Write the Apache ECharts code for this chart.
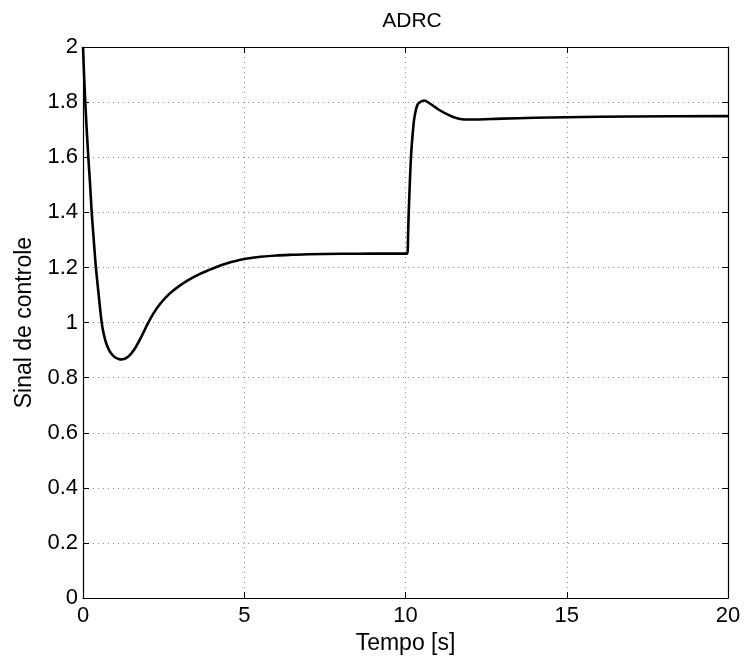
<!DOCTYPE html>
<html>
<head>
<meta charset="utf-8">
<script src="https://cdn.jsdelivr.net/npm/echarts@6/dist/echarts.min.js"></script>
<style>html,body{margin:0;padding:0;background:#fff}#c{width:744px;height:660px}</style>
</head>
<body>
<div id="c"></div>
<script>
var titleText = "ADRC";
var xName = "Tempo [s]";
var yName = "Sinal de controle";
var xTicks = [0, 5, 10, 15, 20];
var yTicks = [0, 0.2, 0.4, 0.6, 0.8, 1, 1.2, 1.4, 1.6, 1.8, 2];
var tValues = [0, 0.035, 0.07, 0.115, 0.165, 0.215, 0.27, 0.33, 0.40, 0.50, 0.58, 0.65, 0.72, 0.80, 0.90, 1.0, 1.1, 1.2,
  1.4, 1.6, 1.8, 2.0, 2.2, 2.4, 2.6, 2.8, 3.0, 3.2, 3.4, 3.6, 3.8, 4.0, 4.2, 4.4, 4.6, 4.8, 5.0, 5.5, 6.0, 6.5, 7.0, 8.0, 9.0, 10.05,
  10.08, 10.1, 10.17, 10.25, 10.3, 10.37, 10.45, 10.58, 10.75, 11.0, 11.22, 11.5, 11.74, 12.0, 13, 14, 15, 17, 20];
var uValues = [2.0, 1.895, 1.80, 1.70, 1.60, 1.51, 1.40, 1.305, 1.20, 1.085, 1.00, 0.955, 0.925, 0.902, 0.884, 0.873, 0.868, 0.866,
  0.876, 0.904, 0.946, 0.994, 1.036, 1.069, 1.095, 1.116, 1.134, 1.1496, 1.163, 1.175, 1.1855, 1.1955, 1.2045, 1.2125, 1.2195, 1.2255, 1.2305, 1.2385, 1.2435, 1.246, 1.248, 1.2495, 1.25, 1.25,
  1.32, 1.40, 1.60, 1.72, 1.76, 1.79, 1.80, 1.806, 1.795, 1.775, 1.76, 1.745, 1.738, 1.737, 1.74, 1.743, 1.745, 1.748, 1.749];

var data = tValues.map(function (t, i) { return [t, uValues[i]]; });
var font = "'Liberation Sans', Arial, Helvetica, sans-serif";
var gridLine = { show: true, lineStyle: { color: '#8c8c8c', type: [1, 4], width: 1 } };

var chart = echarts.init(document.getElementById('c'));
chart.setOption({
  animation: false,
  backgroundColor: '#fff',
  title: { text: titleText, left: 407, top: 6, textAlign: 'center',
    textStyle: { fontFamily: font, fontSize: 21, fontWeight: 'normal', color: '#000' } },
  grid: { left: 83, right: 16, top: 47, bottom: 57, containLabel: false },
  xAxis: [{
    type: 'value', min: 0, max: 20, interval: 5,
    name: xName, nameLocation: 'middle', nameGap: 30,
    nameTextStyle: { fontFamily: font, fontSize: 23, color: '#000' },
    axisLine: { show: true, onZero: false, lineStyle: { color: '#000', width: 1.2 } },
    axisTick: { show: true, inside: true, length: 6, lineStyle: { color: '#000' } },
    axisLabel: { fontFamily: font, fontSize: 22, color: '#000', margin: 7 },
    splitLine: gridLine
  }, {
    type: 'value', position: 'top', min: 0, max: 20, interval: 5,
    axisLine: { show: true, onZero: false, lineStyle: { color: '#000', width: 1.2 } },
    axisTick: { show: true, inside: true, length: 6, lineStyle: { color: '#000' } },
    axisLabel: { show: false }, splitLine: { show: false }
  }],
  yAxis: [{
    type: 'value', min: 0, max: 2, interval: 0.2,
    name: yName, nameLocation: 'middle', nameGap: 44, nameRotate: 90,
    nameTextStyle: { fontFamily: font, fontSize: 23, color: '#000' },
    axisLine: { show: true, onZero: false, lineStyle: { color: '#000', width: 1.2 } },
    axisTick: { show: true, inside: true, length: 6, lineStyle: { color: '#000' } },
    axisLabel: { fontFamily: font, fontSize: 22, color: '#000', margin: 5,
      formatter: function (v) { return String(Math.round(v * 10) / 10); } },
    splitLine: gridLine
  }, {
    type: 'value', position: 'right', min: 0, max: 2, interval: 0.2,
    axisLine: { show: true, onZero: false, lineStyle: { color: '#000', width: 1.2 } },
    axisTick: { show: true, inside: true, length: 6, lineStyle: { color: '#000' } },
    axisLabel: { show: false }, splitLine: { show: false }
  }],
  series: [{
    type: 'line', data: data, xAxisIndex: 0, yAxisIndex: 0,
    showSymbol: false, smooth: 0.3,
    lineStyle: { color: '#000', width: 2.6 }
  }]
});
</script>
</body>
</html>
